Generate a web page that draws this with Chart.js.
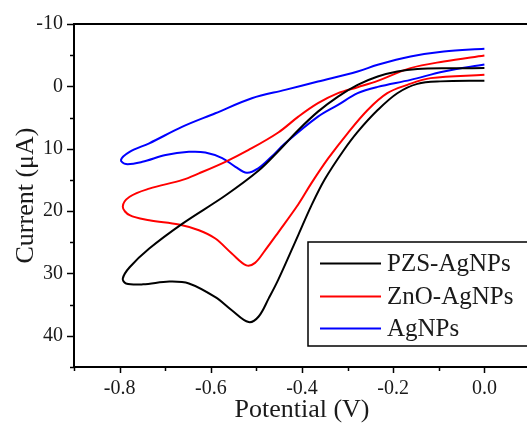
<!DOCTYPE html>
<html>
<head>
<meta charset="utf-8">
<script src="https://cdn.jsdelivr.net/npm/chart.js@4"></script>
<style>
	html, body { margin: 0; padding: 0; background: #fff; overflow: hidden; }
	#cv { display: block; }
</style>
</head>
<body>
<canvas id="cv" width="540" height="423"></canvas>
<script>
	'use strict'

	// potential (V) and current (uA), traced around each closed voltammogram
	const pzsPotential = [0.0, -0.097, -0.147, -0.191, -0.234, -0.278, -0.310, -0.350, -0.380, -0.408, -0.452, -0.473, -0.495, -0.517, -0.554, -0.590, -0.648, -0.691, -0.749, -0.786, -0.793, -0.778, -0.735, -0.662, -0.568, -0.495, -0.452, -0.408, -0.365, -0.321, -0.278, -0.234, -0.191, -0.147, -0.080, 0.0];
	const pzsCurrent = [-0.9, -0.8, -0.4, 1.1, 3.8, 7.3, 10.4, 14.9, 19.2, 23.8, 31.0, 34.0, 36.9, 37.8, 35.9, 33.8, 31.6, 31.3, 31.75, 31.6, 30.8, 29.0, 26.0, 22.0, 17.5, 13.5, 10.4, 7.0, 4.05, 1.64, -0.24, -1.58, -2.38, -2.77, -2.9, -2.93];

	const znoPotential = [0.0, -0.118, -0.169, -0.213, -0.256, -0.300, -0.343, -0.380, -0.408, -0.452, -0.481, -0.503, -0.522, -0.554, -0.590, -0.626, -0.670, -0.735, -0.778, -0.793, -0.778, -0.735, -0.662, -0.626, -0.568, -0.517, -0.452, -0.408, -0.365, -0.321, -0.278, -0.234, -0.162, -0.089, 0.0];
	const znoCurrent = [-1.85, -1.32, -0.24, 1.09, 3.78, 7.52, 11.6, 15.6, 18.9, 23.4, 26.3, 28.3, 28.7, 26.8, 24.4, 23.07, 22.15, 21.46, 20.66, 19.3, 17.7, 16.4, 15.0, 13.95, 12.1, 10.2, 7.4, 4.86, 2.7, 1.09, 0.13, -0.88, -2.93, -3.99, -4.95];

	const agPotential = [0.0, -0.089, -0.162, -0.234, -0.278, -0.365, -0.437, -0.510, -0.590, -0.662, -0.735, -0.778, -0.797, -0.786, -0.750, -0.699, -0.648, -0.612, -0.575, -0.546, -0.521, -0.496, -0.467, -0.437, -0.365, -0.321, -0.278, -0.234, -0.162, -0.089, 0.0];
	const agCurrent = [-6.03, -5.6, -4.79, -3.46, -2.38, -0.77, 0.56, 1.9, 4.31, 6.46, 9.13, 10.5, 11.8, 12.46, 12.1, 11.0, 10.5, 10.6, 11.5, 12.9, 13.86, 13.15, 11.3, 9.13, 4.86, 2.97, 1.09, 0.08, -1.04, -2.38, -3.5];

	const seriesLabels = ['PZS-AgNPs', 'ZnO-AgNPs', 'AgNPs'];
	const seriesColors = ['#000000', '#ff0000', '#0000ff'];

	const xMin = -0.9;
	const xMax = 0.1;
	const yMin = -10;
	const yMax = 45;

	const serif = "'Liberation Serif', 'Times New Roman', serif";
	const textColor = '#1a1a1a';

	function toPoints(xs, ys) {
		return xs.map((x, i) => ({ x: x, y: ys[i] }));
	}

	const seriesData = [
		toPoints(pzsPotential, pzsCurrent),
		toPoints(znoPotential, znoCurrent),
		toPoints(agPotential, agCurrent)
	];

	// frame, outward tick marks and the boxed legend
	const framePlugin = {
		id: 'frame',
		afterDraw(chart) {
			const { ctx, chartArea: a, scales } = chart;
			ctx.save();
			ctx.strokeStyle = '#000';
			ctx.lineWidth = 2;
			ctx.strokeRect(a.left, a.top, a.right - a.left, a.bottom - a.top);

			ctx.lineWidth = 1.5;
			scales.x.ticks.forEach((t) => {
				const px = Math.round(scales.x.getPixelForValue(t.value)) + 0.5;
				const len = t.label !== '' ? 6 : 4;
				ctx.beginPath();
				ctx.moveTo(px, a.bottom);
				ctx.lineTo(px, a.bottom + len);
				ctx.stroke();
			});
			scales.y.ticks.forEach((t) => {
				const py = Math.round(scales.y.getPixelForValue(t.value)) + 0.5;
				const len = t.label !== '' ? 7 : 4;
				ctx.beginPath();
				ctx.moveTo(a.left, py);
				ctx.lineTo(a.left - len, py);
				ctx.stroke();
			});

			// legend box
			const box = { left: 308, top: 242, right: 534, bottom: 346 };
			ctx.lineWidth = 1.5;
			ctx.strokeRect(box.left, box.top, box.right - box.left, box.bottom - box.top);
			const rows = [263.5, 296.5, 328.5];
			ctx.font = '25px ' + serif;
			ctx.textBaseline = 'middle';
			ctx.textAlign = 'left';
			chart.data.datasets.forEach((ds, i) => {
				ctx.strokeStyle = ds.borderColor;
				ctx.lineWidth = 2;
				ctx.beginPath();
				ctx.moveTo(320, rows[i]);
				ctx.lineTo(381, rows[i]);
				ctx.stroke();
				ctx.fillStyle = textColor;
				ctx.fillText(ds.label, 387, rows[i] + 1);
			});
			ctx.restore();
		}
	};

	const cvCtx = document.getElementById('cv');

	new Chart(cvCtx, {
		type: 'scatter',
		data: {
			datasets: seriesLabels.map((label, i) => ({
				label: label,
				data: seriesData[i],
				showLine: true,
				borderColor: seriesColors[i],
				backgroundColor: seriesColors[i],
				borderWidth: 2,
				pointRadius: 0,
				tension: 0.35,
				fill: false
			}))
		},
		options: {
			responsive: false,
			animation: false,
			devicePixelRatio: 1,
			layout: {
				padding: { top: 24, right: 6, left: 0, bottom: 0 }
			},
			plugins: {
				legend: { display: false },
				tooltip: { enabled: false }
			},
			scales: {
				x: {
					type: 'linear',
					min: xMin,
					max: xMax,
					afterFit: function(scale) {
						scale.height = 56;
					},
					grid: { display: false, drawTicks: false },
					border: { display: false },
					ticks: {
						stepSize: 0.1,
						autoSkip: false,
						maxRotation: 0,
						padding: 10,
						color: textColor,
						font: { family: serif, size: 20 },
						callback: function(value) {
							return Math.abs(Math.round(value * 10)) % 2 === 0 ? value.toFixed(1) : '';
						}
					},
					title: {
						display: true,
						text: 'Potential (V)',
						color: textColor,
						font: { family: serif, size: 26, lineHeight: 1.0 },
						padding: { top: 0, bottom: 0 }
					}
				},
				y: {
					type: 'linear',
					reverse: true,
					min: yMin,
					max: yMax,
					afterFit: function(scale) {
						scale.width = 74;
					},
					grid: { display: false, drawTicks: false },
					border: { display: false },
					ticks: {
						stepSize: 5,
						autoSkip: false,
						padding: 11,
						color: textColor,
						font: { family: serif, size: 20 },
						callback: function(value) {
							return value % 10 === 0 ? String(value) : '';
						}
					},
					title: {
						display: true,
						text: 'Current (\u03bcA)',
						color: textColor,
						font: { family: serif, size: 26, lineHeight: 1.0 },
						padding: { top: 13, bottom: 0 }
					}
				}
			}
		},
		plugins: [framePlugin]
	});
</script>
</body>
</html>
